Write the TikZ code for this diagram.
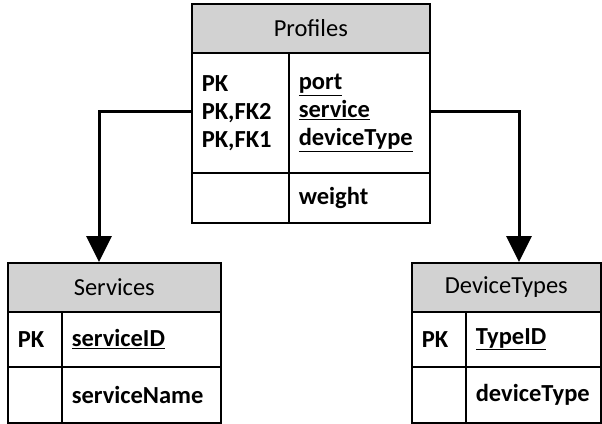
\documentclass[tikz,border=0pt]{standalone}
\usepackage{fontspec}
\setmainfont{Carlito}
\usetikzlibrary{arrows.meta}
\definecolor{hdrgray}{RGB}{210,210,210}
\begin{document}
\begin{tikzpicture}[x=1pt,y=-1pt,
  font=\fontsize{24.5}{28}\selectfont,
  box/.style={draw=black, line width=1.6pt, anchor=north west, inner ysep=0pt, inner xsep=10pt},
  hdr/.style={box, fill=hdrgray, align=center},
  keycell/.style={box, align=left, font=\fontsize{24.5}{28}\selectfont\bfseries},
  fldcell/.style={box, align=left, font=\fontsize{24.5}{28}\selectfont\bfseries},
  conn/.style={line width=3pt, -{Triangle[width=25pt,length=26pt]}}
]
\useasboundingbox (0,0) rectangle (602,423);

% Profiles
\node[hdr, text width=218pt, minimum height=49pt] (ph) at (191,3) {Profiles};
\node[keycell, text width=77pt, minimum height=120pt] (pk) at (191,52) {PK\\PK,FK2\\PK,FK1};
\node[fldcell, text width=121pt, minimum height=120pt] (pf) at (288,52) {\underline{port}\\\underline{service}\\\underline{deviceType}};
\node[keycell, text width=77pt, minimum height=50pt] (pk2) at (191,172) {};
\node[fldcell, text width=121pt, minimum height=50pt] (pf2) at (288,172) {weight};

% Services
\node[hdr, text width=193pt, minimum height=49pt] (sh) at (7,262) {Services};
\node[keycell, text width=34pt, minimum height=55pt] (sk) at (7,311) {PK};
\node[fldcell, text width=139pt, minimum height=55pt] (sf) at (61,311) {\underline{serviceID}};
\node[keycell, text width=34pt, minimum height=56pt] (sk2) at (7,366) {};
\node[fldcell, text width=139pt, minimum height=56pt] (sf2) at (61,366) {serviceName};

% DeviceTypes
\node[hdr, text width=169pt, minimum height=49pt] (dh) at (411,262) {DeviceTypes};
\node[keycell, text width=34pt, minimum height=55pt] (dk) at (411,311) {PK};
\node[fldcell, text width=115pt, minimum height=55pt] (df) at (465,311) {\underline{TypeID}};
\node[keycell, text width=34pt, minimum height=56pt] (dk2) at (411,366) {};
\node[fldcell, text width=115pt, minimum height=56pt] (df2) at (465,366) {deviceType};

% Connectors
\coordinate (la) at ([xshift=92pt]sh.north west);
\coordinate (ra) at ([xshift=108pt]dh.north west);
\draw[conn] ([yshift=1pt]pk.west) -| (la);
\draw[conn] ([yshift=1pt]pf.east) -| (ra);
\end{tikzpicture}
\end{document}
